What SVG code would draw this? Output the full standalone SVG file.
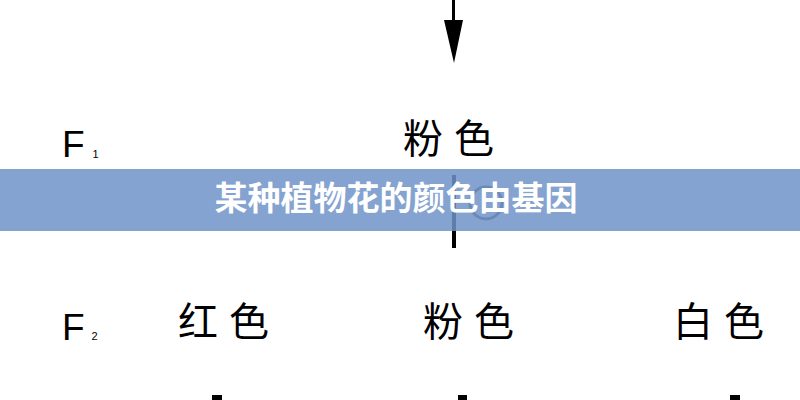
<svg xmlns="http://www.w3.org/2000/svg" width="800" height="400" viewBox="0 0 800 400">
<style>
.lbl{font-family:"Noto Sans CJK SC","Liberation Sans",sans-serif;font-size:40px;fill:#000;letter-spacing:11px}
.gen{font-family:"Liberation Sans",sans-serif;font-size:37px;fill:#000}
.sub{font-family:"Liberation Sans",sans-serif;font-size:11px;fill:#000}
.banner-text{font-family:"Noto Sans CJK SC",sans-serif;font-weight:bold;font-size:33px;fill:#fff}
</style>
<rect width="800" height="400" fill="#fff"/>
<g id="connectors">
  <rect x="452" y="0" width="3" height="22" fill="#000"/>
  <path d="M444,20 L463,20 L454,63 Z" fill="#000"/>
  <rect x="452" y="175" width="4" height="73" fill="#000"/>
  <circle cx="486" cy="203" r="16" fill="none" stroke="#555" stroke-width="3"/>
  <rect x="212" y="395" width="10" height="5" fill="#000"/>
  <rect x="458" y="395" width="9" height="5" fill="#000"/>
  <rect x="730" y="395" width="10" height="5" fill="#000"/>
</g>
<g id="f1-label"><text class="gen" x="62" y="157">F<tspan class="sub" dx="8" dy="1">1</tspan></text></g>
<g id="f1-pink"><text class="lbl" x="403" y="153">粉色</text></g>
<g id="f2-label"><text class="gen" x="62" y="340">F<tspan class="sub" dx="7" dy="0">2</tspan></text></g>
<g id="f2-red"><text class="lbl" x="178" y="336">红色</text></g>
<g id="f2-pink"><text class="lbl" x="423" y="336">粉色</text></g>
<g id="f2-white"><text class="lbl" x="673" y="336">白色</text></g>
<g id="banner">
  <rect x="0" y="169" width="800" height="62" fill="#7093C8" fill-opacity="0.85"/>
  <text class="banner-text" x="396" y="210" text-anchor="middle">某种植物花的颜色由基因</text>
</g>
</svg>
